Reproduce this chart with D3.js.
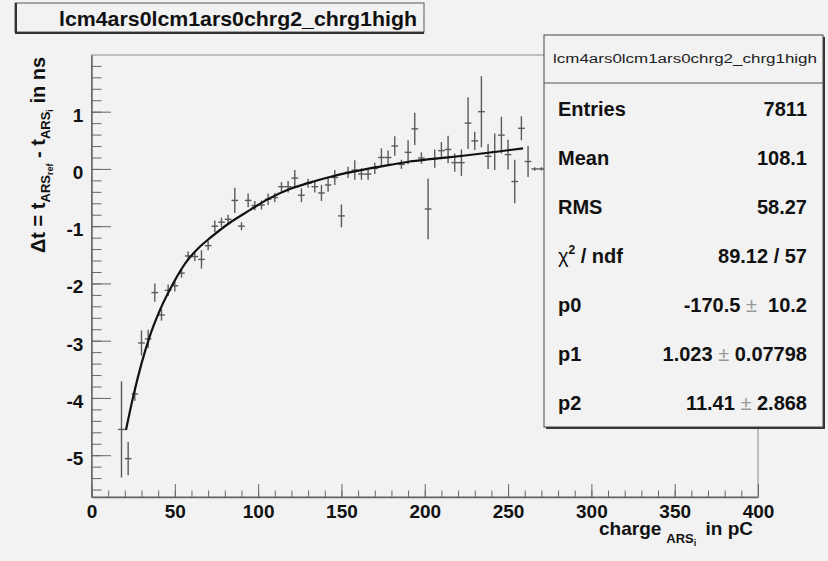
<!DOCTYPE html>
<html>
<head>
<meta charset="utf-8">
<script src="https://cdn.jsdelivr.net/npm/d3@7"></script>
<style>
  body { margin: 0; background: #f2f2f2; }
  svg { display: block; font-family: "Liberation Sans", Arial, Helvetica, sans-serif; font-weight: bold; }
  text { white-space: pre; }
</style>
</head>
<body>
<div id="chart"></div>
<script>
// bin centres (pC) and the profile values
var charge = [18, 22, 26, 30, 34, 38, 42, 46, 50, 54, 58, 62, 66, 70, 74, 78,
  82, 86, 90, 94, 98, 102, 106, 110, 114, 118, 122, 126, 130, 134, 138, 142,
  146, 150, 154, 158, 162, 166, 170, 174, 178, 182, 186, 190, 194, 198, 202, 206,
  210, 214, 218, 222, 226, 230, 234, 238, 242, 246, 250, 254, 258, 262, 266, 270];
var deltaT = [-4.55, -5.06, -3.93, -3.04, -2.97, -2.16, -2.55, -2.12, -2.04, -1.82, -1.52, -1.53, -1.58, -1.34, -1.0, -0.93,
  -0.88, -0.55, -1.0, -0.55, -0.64, -0.63, -0.53, -0.5, -0.31, -0.31, -0.16, -0.46, -0.25, -0.31, -0.42, -0.28,
  -0.15, -0.82, -0.06, -0.02, -0.09, -0.09, 0.01, 0.2, 0.2, 0.4, 0.08, 0.29, 0.7, 0.19, -0.7, 0.18,
  0.32, 0.34, 0.11, 0.11, 0.8, 0.49, 1.0, 0.22, 0.3, 0.59, 0.25, -0.22, 0.71, 0.13, 0.0, 0.0];
var deltaErr = [0.84, 0.29, 0.12, 0.22, 0.16, 0.16, 0.10, 0.10, 0.10, 0.08, 0.08, 0.08, 0.16, 0.08, 0.10, 0.08,
  0.08, 0.22, 0.07, 0.12, 0.08, 0.08, 0.10, 0.08, 0.08, 0.10, 0.14, 0.12, 0.08, 0.10, 0.14, 0.12,
  0.13, 0.20, 0.10, 0.17, 0.10, 0.10, 0.10, 0.16, 0.12, 0.17, 0.08, 0.21, 0.28, 0.10, 0.53, 0.16,
  0.15, 0.24, 0.16, 0.23, 0.45, 0.16, 0.62, 0.22, 0.32, 0.32, 0.26, 0.38, 0.21, 0.27, 0.03, 0.03];
var binHalfWidth = 2;

// fitted curve
var fitCharge = [20.7, 25, 30, 35, 41, 49, 57, 65, 71, 83, 95, 107, 119, 131, 143, 155, 167, 179, 191, 203, 223, 243, 259];
var fitDeltaT = [-4.56, -3.98, -3.40, -2.92, -2.47, -2.0, -1.62, -1.36, -1.21, -0.94, -0.72, -0.51, -0.35, -0.24, -0.14, -0.06, 0.01, 0.07, 0.13, 0.17, 0.23, 0.30, 0.36];

var xTicks = [0, 50, 100, 150, 200, 250, 300, 350, 400];
var yTicks = [-5, -4, -3, -2, -1, 0, 1];

var histName = "lcm4ars0lcm1ars0chrg2_chrg1high";
var statsLabels = ["Entries", "Mean", "RMS", "chi2", "p0", "p1", "p2"];
var statsValues = ["7811", "108.1", "58.27", "89.12 / 57", "-170.5 \u00b1  10.2", "1.023 \u00b1 0.07798", "11.41 \u00b1 2.868"];

var W = 828, H = 561;
var frame = {left: 91.5, right: 758, top: 55, bottom: 497};

var svg = d3.select('#chart')
  .append('svg')
    .attr('width', W)
    .attr('height', H);

svg.append('rect')
  .attr('width', W).attr('height', H)
  .attr('fill', '#f2f2f2');

var x = d3.scaleLinear().domain([0, 400]).range([frame.left, frame.right]);
var y = d3.scaleLinear().domain([-5.73, 1.99]).range([frame.bottom, frame.top]);

// plain hyphen for negatives, like the original
var plainNum = function (d) { return String(d); };

// frame
svg.append('rect')
  .attr('x', frame.left).attr('y', frame.top)
  .attr('width', frame.right - frame.left)
  .attr('height', frame.bottom - frame.top)
  .attr('fill', 'none')
  .attr('stroke', '#8a8a8a')
  .attr('stroke-width', 1);

// minor ticks
svg.append('g')
  .attr('transform', 'translate(0,' + frame.bottom + ')')
  .call(d3.axisBottom(x).tickValues(d3.range(0, 401, 10)).tickSize(-6.5).tickFormat(''))
  .call(function (g) { g.select('.domain').remove(); })
  .selectAll('line').attr('stroke', '#666');

svg.append('g')
  .attr('transform', 'translate(' + frame.left + ',0)')
  .call(d3.axisLeft(y).tickValues(d3.range(-5.6, 1.81, 0.2)).tickSize(-10).tickFormat(''))
  .call(function (g) { g.select('.domain').remove(); })
  .selectAll('line').attr('stroke', '#666');

// major ticks and labels
var xAxis = svg.append('g')
  .attr('transform', 'translate(0,' + frame.bottom + ')')
  .call(d3.axisBottom(x).tickValues(xTicks).tickFormat(plainNum).tickSize(-13).tickPadding(7.7).tickSizeOuter(0));
xAxis.select('.domain').attr('stroke', '#666').attr('stroke-width', 1.5);
xAxis.selectAll('line').attr('stroke', '#666');
xAxis.selectAll('text')
  .attr('fill', '#111')
  .style('font-size', '19px')
  .style('font-family', '"Liberation Sans", Arial, sans-serif')
  .style('font-weight', 'bold');

var yAxis = svg.append('g')
  .attr('transform', 'translate(' + frame.left + ',0)')
  .call(d3.axisLeft(y).tickValues(yTicks).tickFormat(plainNum).tickSize(-19.5).tickPadding(8.2).tickSizeOuter(0));
yAxis.select('.domain').attr('stroke', '#666').attr('stroke-width', 1.5);
yAxis.selectAll('line').attr('stroke', '#666');
yAxis.selectAll('text')
  .attr('fill', '#111')
  .attr('dy', '0.5em')
  .style('font-size', '19px')
  .style('font-family', '"Liberation Sans", Arial, sans-serif')
  .style('font-weight', 'bold');

// data points with error bars
var points = charge.map(function (c, i) {
  return {x: c, y: deltaT[i], e: deltaErr[i]};
});

var pts = svg.append('g')
  .attr('stroke', '#5a5a5a')
  .attr('stroke-width', 1.4);

pts.selectAll('line.vbar')
  .data(points)
  .enter()
    .append('line')
      .classed('vbar', true)
      .attr('x1', function (d) { return x(d.x); })
      .attr('x2', function (d) { return x(d.x); })
      .attr('y1', function (d) { return y(d.y - d.e); })
      .attr('y2', function (d) { return y(d.y + d.e); });

pts.selectAll('line.hbar')
  .data(points)
  .enter()
    .append('line')
      .classed('hbar', true)
      .attr('x1', function (d) { return x(d.x - binHalfWidth); })
      .attr('x2', function (d) { return x(d.x + binHalfWidth); })
      .attr('y1', function (d) { return y(d.y); })
      .attr('y2', function (d) { return y(d.y); });

// fit curve
var line = d3.line()
  .x(function (d) { return x(d[0]); })
  .y(function (d) { return y(d[1]); })
  .curve(d3.curveMonotoneX);

svg.append('path')
  .datum(fitCharge.map(function (c, i) { return [c, fitDeltaT[i]]; }))
  .attr('d', line)
  .attr('fill', 'none')
  .attr('stroke', '#111')
  .attr('stroke-width', 2.2);

// axis titles
var xTitle = svg.append('text')
  .attr('x', 599).attr('y', 535)
  .attr('fill', '#111')
  .style('font-size', '19px');
xTitle.append('tspan').text('charge');
xTitle.append('tspan').attr('dx', 5).attr('dy', 8).style('font-size', '13px').text('ARS');
xTitle.append('tspan').attr('dy', 3).style('font-size', '9px').text('i');
xTitle.append('tspan').attr('dx', 4).attr('dy', -11).text(' in pC');

var yTitle = svg.append('text')
  .attr('transform', 'translate(45,253) rotate(-90)')
  .attr('fill', '#111')
  .style('font-size', '20px');
yTitle.append('tspan').text('\u0394t = t');
yTitle.append('tspan').attr('dy', 5).style('font-size', '13px').text('ARS');
yTitle.append('tspan').attr('dy', 3).style('font-size', '9px').text('ref');
yTitle.append('tspan').attr('dy', -8).text(' - t');
yTitle.append('tspan').attr('dy', 5).style('font-size', '13px').text('ARS');
yTitle.append('tspan').attr('dy', 3).style('font-size', '9px').text('i');
yTitle.append('tspan').attr('dy', -8).text(' in ns');

// title box
var tb = {x: 15, y: 3, w: 409, h: 29};
svg.append('rect')
  .attr('x', tb.x).attr('y', tb.y).attr('width', tb.w).attr('height', tb.h)
  .attr('fill', '#f2f2f2').attr('stroke', '#555').attr('stroke-width', 1);
svg.append('path')
  .attr('d', 'M' + (tb.x + 1) + ',' + tb.y + 'V' + (tb.y + tb.h + 1) + 'H' + (tb.x + tb.w))
  .attr('fill', 'none').attr('stroke', '#333').attr('stroke-width', 2);
svg.append('text')
  .attr('x', 59).attr('y', 26)
  .attr('textLength', 358).attr('lengthAdjust', 'spacingAndGlyphs')
  .attr('fill', '#111')
  .style('font-size', '21px')
  .text(histName);

// stats box
var sb = {x: 544, y: 35, w: 279, h: 392};
svg.append('rect')
  .attr('x', sb.x + 2).attr('y', sb.y + 2).attr('width', sb.w).attr('height', sb.h)
  .attr('fill', '#333');
svg.append('rect')
  .attr('x', sb.x).attr('y', sb.y).attr('width', sb.w).attr('height', sb.h)
  .attr('fill', '#f2f2f2').attr('stroke', '#444').attr('stroke-width', 1);
svg.append('line')
  .attr('x1', sb.x).attr('x2', sb.x + sb.w)
  .attr('y1', 83).attr('y2', 83)
  .attr('stroke', '#555');
svg.append('text')
  .attr('x', 553).attr('y', 63)
  .attr('textLength', 264).attr('lengthAdjust', 'spacingAndGlyphs')
  .attr('fill', '#222')
  .style('font-size', '12px')
  .style('font-weight', 'normal')
  .text(histName);

var rows = svg.append('g').style('font-size', '20px').attr('fill', '#111');
statsLabels.forEach(function (lab, i) {
  var yy = 116 + 49 * i;
  var t = rows.append('text').attr('x', 558).attr('y', yy);
  if (lab === 'chi2') {
    t.append('tspan').style('font-weight', 'normal').text('\u03c7');
    t.append('tspan').attr('dy', -9).style('font-size', '12px').text('2');
    t.append('tspan').attr('dy', 9).text(' / ndf');
  } else {
    t.text(lab);
  }
  var v = rows.append('text').attr('x', 807).attr('y', yy).attr('text-anchor', 'end');
  var parts = statsValues[i].split('\u00b1');
  v.append('tspan').text(parts[0]);
  if (parts.length > 1) {
    v.append('tspan').attr('fill', '#999').style('font-weight', 'normal').text('\u00b1');
    v.append('tspan').text(parts[1]);
  }
});
</script>
</body>
</html>
